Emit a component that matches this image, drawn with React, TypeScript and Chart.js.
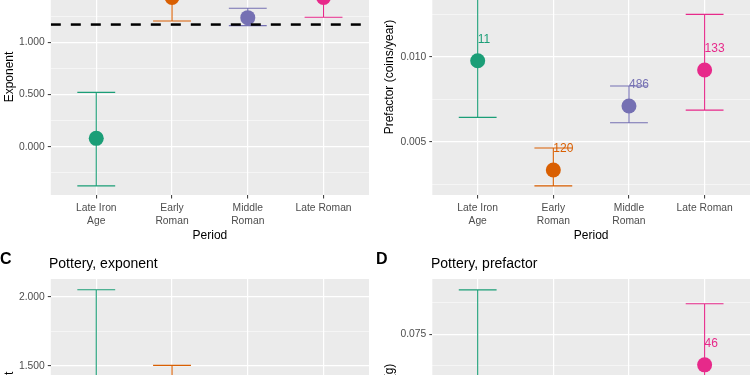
import React, { useEffect, useRef } from 'react';
import { Chart, registerables } from 'chart.js';

Chart.register(...registerables);

const FONT = "'Liberation Sans', Arial, Helvetica, sans-serif";

// ---------- shared categories ----------
const periods: (string | string[])[] = [['Late Iron', 'Age'], ['Early', 'Roman'], ['Middle', 'Roman'], 'Late Roman'];
const periodColors = ['#1B9E77', '#D95F02', '#7570B3', '#E7298A'];
const xAxisTitle = 'Period';

// ---------- A: coins, exponent ----------
const coinsExponent = [0.08, 1.43, 1.236, 1.43];
const coinsExponentLow = [-0.376, 1.204, 1.16, 1.24];
const coinsExponentHigh = [0.52, 1.65, 1.326, 1.62];
const coinsExponentRef = 1.17;
const coinsExponentAxis = { min: -0.463, max: 1.798, minor: 0.25, major: 0.5 };
const coinsExponentN = ['', '', '', ''];

// ---------- B: coins, prefactor ----------
const coinsPrefactor = [0.00976, 0.00334, 0.0071, 0.00922];
const coinsPrefactorLow = [0.00643, 0.0024, 0.00612, 0.00686];
const coinsPrefactorHigh = [0.0148, 0.00463, 0.00828, 0.01249];
const coinsPrefactorN = ['11', '120', '486', '133'];
const coinsPrefactorAxis = { min: 0.001865, max: 0.01575, minor: 0.0025, major: 0.005 };

// ---------- C: pottery, exponent ----------
const potteryExponent = [1.1, 1.25, 1.05, 1.0];
const potteryExponentLow = [0.3, 1.02, 0.92, 0.75];
const potteryExponentHigh = [2.05, 1.505, 1.2, 1.3];
const potteryExponentN = ['', '', '', ''];
const potteryExponentAxis = { min: 0.425, max: 2.128, minor: 0.25, major: 0.5 };

// ---------- D: pottery, prefactor ----------
const potteryPrefactor = [0.045, 0.03, 0.035, 0.0629];
const potteryPrefactorLow = [0.015, 0.022, 0.03, 0.044];
const potteryPrefactorHigh = [0.0925, 0.04, 0.04, 0.087];
const potteryPrefactorN = ['', '', '', '46'];
const potteryPrefactorAxis = { min: 0.0036, max: 0.0968, minor: 0.0125, major: 0.025 };

const X_MIN = -0.6;
const X_MAX = 3.6;
const CAP = 0.25;

type Spec = {
  key: string;
  value: number[];
  low: number[];
  high: number[];
  n: string[];
  ref?: number;
  axis: { min: number; max: number; minor: number; major: number };
  yTitle: string;
  box: { x: number; y: number; w: number; h: number };
  padLeft: number;
  padRight: number;
  yWidth: number;
  yTitlePad: number;
};

const panels: Spec[] = [
  {
    key: 'A', value: coinsExponent, low: coinsExponentLow, high: coinsExponentHigh, n: coinsExponentN,
    ref: coinsExponentRef, axis: coinsExponentAxis, yTitle: 'Exponent',
    box: { x: 0, y: -61, w: 379, h: 306 }, padLeft: 0, padRight: 10, yWidth: 50.8, yTitlePad: 2,
  },
  {
    key: 'B', value: coinsPrefactor, low: coinsPrefactorLow, high: coinsPrefactorHigh, n: coinsPrefactorN,
    axis: coinsPrefactorAxis, yTitle: 'Prefactor (coins/year)',
    box: { x: 375, y: -61, w: 385, h: 306 }, padLeft: 0, padRight: 10, yWidth: 57.3, yTitlePad: 7.5,
  },
  {
    key: 'C', value: potteryExponent, low: potteryExponentLow, high: potteryExponentHigh, n: potteryExponentN,
    axis: potteryExponentAxis, yTitle: 'Exponent',
    box: { x: 0, y: 259, w: 379, h: 306 }, padLeft: 0, padRight: 10, yWidth: 50.8, yTitlePad: 2,
  },
  {
    key: 'D', value: potteryPrefactor, low: potteryPrefactorLow, high: potteryPrefactorHigh, n: potteryPrefactorN,
    axis: potteryPrefactorAxis, yTitle: 'Prefactor (g)',
    box: { x: 375, y: 259, w: 385, h: 306 }, padLeft: 0, padRight: 10, yWidth: 57.3, yTitlePad: 7.5,
  },
];

const isMultiple = (v: number, step: number) => {
  const r = v / step;
  return Math.abs(r - Math.round(r)) < 1e-6;
};

function clipToArea(ctx: CanvasRenderingContext2D, a: any) {
  ctx.beginPath();
  ctx.rect(a.left, a.top, a.right - a.left, a.bottom - a.top);
  ctx.clip();
}

function buildConfig(spec: Spec): any {
  const major = spec.axis.major;
  const bgPlugin = {
    id: 'panelBg',
    beforeDraw(chart: any) {
      const { ctx, chartArea: a } = chart;
      ctx.save();
      ctx.fillStyle = '#EBEBEB';
      ctx.fillRect(a.left, a.top, a.right - a.left, a.bottom - a.top);
      ctx.restore();
    },
  };
  const errorBarPlugin = {
    id: 'errorBars',
    beforeDatasetsDraw(chart: any) {
      const { ctx, chartArea: a, scales } = chart;
      const xs = scales.x;
      const ys = scales.y;
      ctx.save();
      clipToArea(ctx, a);
      ctx.lineWidth = 1.1;
      spec.low.forEach((lo, i) => {
        const hi = spec.high[i];
        const px = xs.getPixelForValue(i);
        const x0 = xs.getPixelForValue(i - CAP);
        const x1 = xs.getPixelForValue(i + CAP);
        const yl = ys.getPixelForValue(lo);
        const yh = ys.getPixelForValue(hi);
        ctx.strokeStyle = periodColors[i];
        ctx.beginPath();
        ctx.moveTo(px, yl);
        ctx.lineTo(px, yh);
        ctx.moveTo(x0, yl);
        ctx.lineTo(x1, yl);
        ctx.moveTo(x0, yh);
        ctx.lineTo(x1, yh);
        ctx.stroke();
      });
      ctx.restore();
    },
  };
  const labelPlugin = {
    id: 'nLabels',
    afterDatasetsDraw(chart: any) {
      const { ctx, chartArea: a, scales } = chart;
      ctx.save();
      clipToArea(ctx, a);
      ctx.font = `12px ${FONT}`;
      ctx.textAlign = 'left';
      ctx.textBaseline = 'middle';
      spec.n.forEach((txt, i) => {
        if (!txt) return;
        const px = scales.x.getPixelForValue(i);
        const py = scales.y.getPixelForValue(spec.value[i]);
        ctx.fillStyle = periodColors[i];
        ctx.fillText(txt, px, py - 21);
      });
      ctx.restore();
    },
  };

  const datasets: any[] = [
    {
      type: 'scatter',
      data: spec.value.map((v, i) => ({ x: i, y: v })),
      pointRadius: 7.5,
      pointHoverRadius: 7.5,
      pointBackgroundColor: periodColors,
      pointBorderWidth: 0,
      showLine: false,
      order: 1,
    },
  ];
  if (spec.ref !== undefined) {
    datasets.push({
      type: 'line',
      data: [{ x: X_MIN, y: spec.ref }, { x: X_MAX, y: spec.ref }],
      borderColor: '#000000',
      borderWidth: 2.5,
      borderDash: [10, 10],
      pointRadius: 0,
      fill: false,
      order: 0,
    });
  }

  return {
    type: 'scatter',
    data: { datasets },
    plugins: [bgPlugin, errorBarPlugin, labelPlugin],
    options: {
      animation: false,
      responsive: false,
      events: [],
      layout: { padding: { left: spec.padLeft, right: spec.padRight, top: 20, bottom: 0 } },
      plugins: { legend: { display: false }, tooltip: { enabled: false }, title: { display: false } },
      scales: {
        x: {
          type: 'linear',
          min: X_MIN,
          max: X_MAX,
          afterFit: (s: any) => { s.height = 50; },
          border: { display: false },
          grid: { color: '#FFFFFF', lineWidth: 1.2, tickLength: 3.5, tickColor: '#333333', tickWidth: 1 },
          ticks: {
            stepSize: 1,
            includeBounds: false,
            autoSkip: false,
            maxRotation: 0,
            minRotation: 0,
            padding: 2.5,
            color: '#4D4D4D',
            font: { family: FONT, size: 10.3, lineHeight: 1.33 },
            callback: (v: any) => {
              const i = Math.round(Number(v));
              return Math.abs(Number(v) - i) < 1e-6 && periods[i] !== undefined ? periods[i] : '';
            },
          },
          title: {
            display: true,
            text: xAxisTitle,
            color: '#000000',
            font: { family: FONT, size: 12, lineHeight: 1.2 },
            padding: { top: 0, bottom: 2 },
          },
        },
        y: {
          type: 'linear',
          min: spec.axis.min,
          max: spec.axis.max,
          afterFit: (s: any) => { s.width = spec.yWidth; },
          border: { display: false },
          grid: {
            color: (c: any) => (c.tick && !isMultiple(c.tick.value, major) ? 'rgba(255,255,255,0.85)' : '#FFFFFF'),
            lineWidth: (c: any) => (c.tick && !isMultiple(c.tick.value, major) ? 0.6 : 1.2),
            tickColor: (c: any) => (c.tick && !isMultiple(c.tick.value, major) ? 'rgba(0,0,0,0)' : '#333333'),
            tickLength: 3,
            tickWidth: 1,
          },
          ticks: {
            stepSize: spec.axis.minor,
            includeBounds: false,
            autoSkip: false,
            padding: 3,
            color: '#4D4D4D',
            font: { family: FONT, size: 10.3 },
            callback: (v: any) => {
              const n = Number(v);
              if (!isMultiple(n, major)) return '';
              const r = Math.abs(n) < 1e-12 ? 0 : n;
              return r.toFixed(3);
            },
          },
          title: {
            display: true,
            text: spec.yTitle,
            color: '#000000',
            font: { family: FONT, size: 12, lineHeight: 1.2 },
            padding: { top: spec.yTitlePad, bottom: 0 },
          },
        },
      },
    },
  };
}

function Panel({ spec }: { spec: Spec }) {
  const ref = useRef<HTMLCanvasElement>(null);
  useEffect(() => {
    const chart = new Chart(ref.current as HTMLCanvasElement, buildConfig(spec));
    return () => chart.destroy();
  }, [spec]);
  return (
    <canvas
      ref={ref}
      width={spec.box.w}
      height={spec.box.h}
      style={{ position: 'absolute', left: spec.box.x, top: spec.box.y, width: spec.box.w, height: spec.box.h }}
    />
  );
}

const panelLetters = [
  { text: 'C', x: 0, y: 259 },
  { text: 'D', x: 376, y: 259 },
];
const panelTitles = [
  { text: 'Pottery, exponent', x: 49, y: 263 },
  { text: 'Pottery, prefactor', x: 431, y: 263 },
];

export default function App() {
  useEffect(() => {
    document.body.style.margin = '0';
  }, []);
  return (
    <div
      style={{
        position: 'fixed',
        left: 0,
        top: 0,
        width: 750,
        height: 375,
        overflow: 'hidden',
        background: '#FFFFFF',
        fontFamily: FONT,
      }}
    >
      {panels.map((p) => (
        <Panel key={p.key} spec={p} />
      ))}
      {panelLetters.map((l) => (
        <div
          key={l.text}
          style={{
            position: 'absolute', left: l.x, top: l.y - 10, height: 20, lineHeight: '20px',
            fontSize: 16, fontWeight: 'bold', color: '#000', whiteSpace: 'nowrap', zIndex: 2,
          }}
        >
          {l.text}
        </div>
      ))}
      {panelTitles.map((t) => (
        <div
          key={t.text}
          style={{
            position: 'absolute', left: t.x, top: t.y - 10, height: 20, lineHeight: '20px',
            fontSize: 14, color: '#000', whiteSpace: 'nowrap', zIndex: 2,
          }}
        >
          {t.text}
        </div>
      ))}
    </div>
  );
}
